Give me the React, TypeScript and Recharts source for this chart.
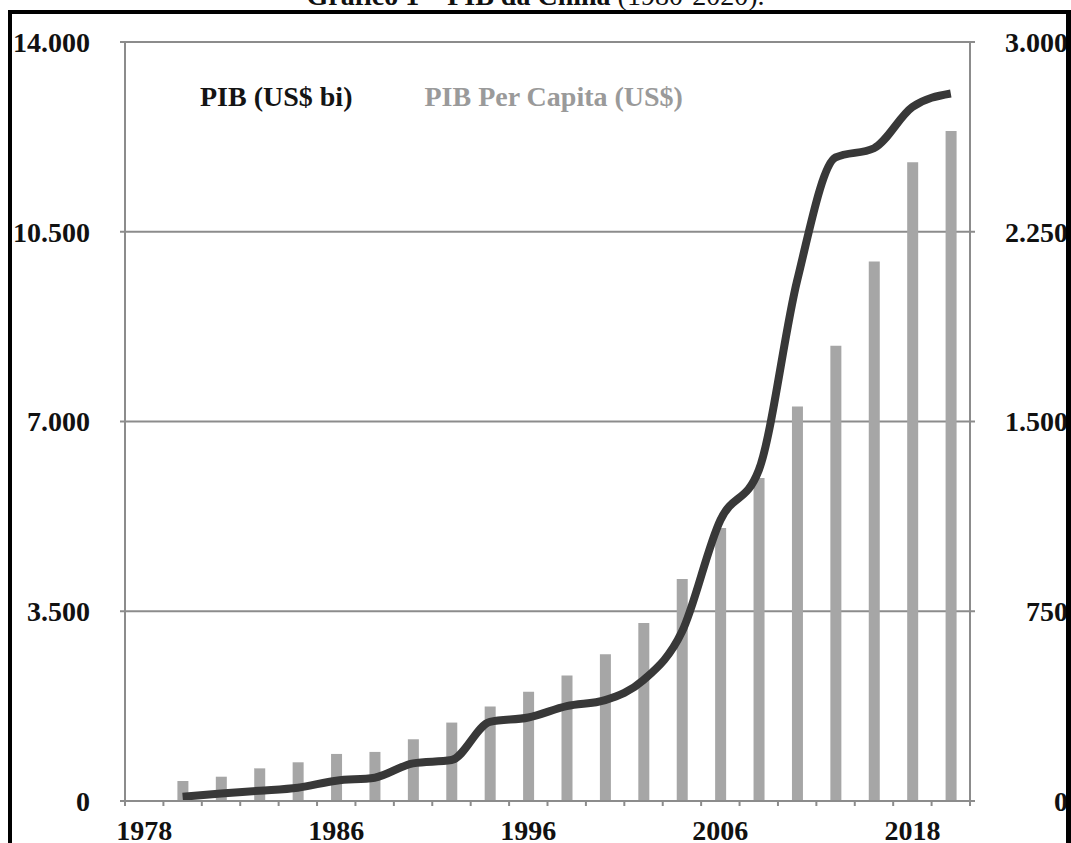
import { ComposedChart, Bar, Line, XAxis, YAxis, CartesianGrid, Legend } from 'recharts'

// categories (first slot is empty, as in the source chart)
const years = [
  '1978', '1980', '1982', '1984', '1986', '1988', '1990', '1992', '1994', '1996', '1998',
  '2000', '2002', '2004', '2006', '2008', '2010', '2012', '2014', '2016', '2018', '2020',
]
// labels printed under the axis
const xTickText = [
  '1978', '', '', '', '', '1986', '', '', '', '', '1996',
  '', '', '', '', '2006', '', '', '', '', '2018', '',
]
// PIB (US$ bi) - left axis
const pib = [
  null, 80, 140, 190, 245, 375, 430, 695, 755, 1460, 1540,
  1750, 1860, 2230, 3120, 5180, 6100, 9600, 11870, 12040, 12800, 13050,
]
// PIB per capita (US$) - right axis
const pibPerCapita = [
  null, 79, 96, 129, 153, 186, 194, 244, 310, 374, 432,
  496, 580, 704, 877, 1079, 1277, 1559, 1799, 2132, 2525, 2648,
]
const leftTicks = [0, 3500, 7000, 10500, 14000]
const rightTicks = [0, 750, 1500, 2250, 3000]

const data = years.map((y, i) => ({ year: y, pib: pib[i], perCapita: pibPerCapita[i] }))

const FONT = '"Liberation Serif", "Times New Roman", serif'
const GRID = '#8c8c8c'
const X_TICK_SIZE = 5
const X_TICK_MARGIN = 14

const fmt = (v: number) => String(v).replace(/\B(?=(\d{3})+(?!\d))/g, '.')

function XTick(props: any) {
  const { x, y, payload, index } = props
  const off = payload?.offset ?? 0
  const axisY = y - X_TICK_SIZE - X_TICK_MARGIN
  return (
    <g>
      <line x1={x - off} x2={x - off} y1={axisY} y2={axisY + X_TICK_SIZE} stroke={GRID} strokeWidth={2} />
      {index === years.length - 1 && (
        <line x1={x + off} x2={x + off} y1={axisY} y2={axisY + X_TICK_SIZE} stroke={GRID} strokeWidth={2} />
      )}
      <text x={x} y={y} dy="0.71em" textAnchor="middle" fontFamily={FONT} fontWeight="bold" fontSize={28} fill="#111">
        {xTickText[index]}
      </text>
    </g>
  )
}

function RightTick(props: any) {
  const { x, y, payload } = props
  return (
    <text x={x + 91} y={y} dy="0.355em" textAnchor="end" fontFamily={FONT} fontWeight="bold" fontSize={28} fill="#111">
      {fmt(payload.value)}
    </text>
  )
}

function LegendBox({ payload }: any) {
  return (
    <div style={{ display: 'flex', gap: 72, fontFamily: FONT, fontWeight: 'bold', fontSize: 28, whiteSpace: 'nowrap' }}>
      {(payload || []).map((p: any) => (
        <span key={p.value} style={{ color: p.dataKey === 'pib' ? '#141414' : '#9a9a9a' }}>{p.value}</span>
      ))}
    </div>
  )
}

export default function App() {
  return (
    <div style={{ position: 'absolute', left: 0, top: 0, width: 1071, height: 843, overflow: 'hidden', background: '#fff' }}>
      <div style={{ position: 'absolute', left: 0, top: -18, width: 1071, textAlign: 'center', fontFamily: FONT, fontSize: 28, lineHeight: '28px', color: '#111' }}>
        <b>Gráfico 1 – PIB da China</b> (1980-2020).
      </div>
      <ComposedChart
        width={1071}
        height={843}
        data={data}
        margin={{ top: 42, right: 0, bottom: 0, left: 0 }}
        style={{ position: 'absolute', left: 0, top: 0 }}
      >
        <CartesianGrid yAxisId="left" horizontal vertical={false} stroke={GRID} strokeWidth={2} strokeDasharray="" />
        <XAxis
          dataKey="year"
          interval={0}
          height={42}
          tickLine={false}
          tickSize={X_TICK_SIZE}
          tickMargin={X_TICK_MARGIN}
          axisLine={{ stroke: GRID, strokeWidth: 2 }}
          tick={<XTick />}
        />
        <YAxis
          yAxisId="left"
          orientation="left"
          width={125}
          domain={[0, 14000]}
          ticks={leftTicks}
          tickFormatter={fmt}
          tickSize={5}
          tickMargin={30}
          axisLine={{ stroke: GRID, strokeWidth: 2 }}
          tickLine={{ stroke: GRID, strokeWidth: 2 }}
          tick={{ fontFamily: FONT, fontWeight: 'bold', fontSize: 28, fill: '#111' }}
        />
        <YAxis
          yAxisId="right"
          orientation="right"
          width={101}
          domain={[0, 3000]}
          ticks={rightTicks}
          tickSize={5}
          tickMargin={2}
          axisLine={{ stroke: GRID, strokeWidth: 2 }}
          tickLine={{ stroke: GRID, strokeWidth: 2 }}
          tick={<RightTick />}
        />
        <Legend
          layout="vertical"
          align="center"
          verticalAlign="middle"
          wrapperStyle={{ top: 81, left: 200, width: 'auto' }}
          content={<LegendBox />}
        />
        <Bar yAxisId="right" dataKey="perCapita" name="PIB Per Capita (US$)" fill="#a6a6a6" barSize={11} isAnimationActive={false} />
        <Line
          yAxisId="left"
          type="monotone"
          dataKey="pib"
          name="PIB (US$ bi)"
          stroke="#383838"
          strokeWidth={8}
          dot={false}
          connectNulls
          isAnimationActive={false}
        />
      </ComposedChart>
      <div style={{ position: 'absolute', left: 8, top: 10, width: 4, height: 833, background: '#000' }} />
      <div style={{ position: 'absolute', left: 8, top: 10, width: 1063, height: 4, background: '#000' }} />
      <div style={{ position: 'absolute', left: 1066, top: 10, width: 5, height: 833, background: '#000' }} />
    </div>
  )
}
